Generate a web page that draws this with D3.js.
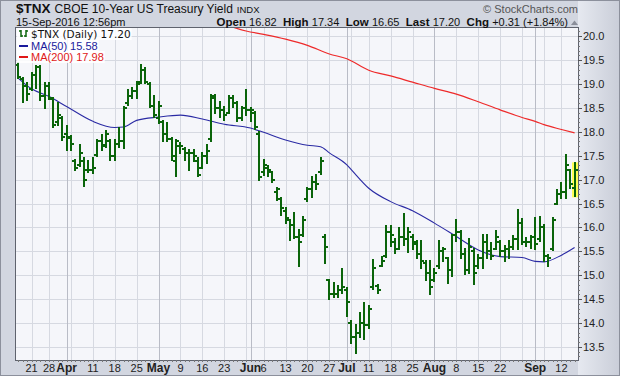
<!DOCTYPE html>
<html>
<head>
<meta charset="UTF-8">
<script src="https://d3js.org/d3.v7.min.js"></script>
<style>
  html, body { margin: 0; padding: 0; background: #fff; }
  svg { display: block; font-family: "Liberation Sans", Arial, sans-serif; }
</style>
</head>
<body>
<svg width="620" height="376"></svg>
<script>
// trading days Mar 16 - Sep 15 2016 (weekdays minus market holidays)
const holidays = ["2016-03-25", "2016-05-30", "2016-07-04", "2016-09-05"];
const fmt = d3.timeFormat("%Y-%m-%d");
const days = d3.timeDay.range(new Date(2016, 2, 16), new Date(2016, 8, 16))
  .filter(d => d.getDay() > 0 && d.getDay() < 6)
  .map(fmt)
  .filter(d => !holidays.includes(d));

// daily bars ($TNX, yield x10)
const opens = [19.40,19.10,18.95,18.90,19.20,19.35,18.75,18.95,18.68,18.20,18.30,
  17.95,17.88,17.40,17.30,17.40,17.20,17.20,17.52,17.80,17.72,17.80,17.50,17.75,17.80,18.60,18.75,18.85,19.05,19.30,19.00,18.55,
  18.30,18.20,17.95,17.85,17.40,17.70,17.65,17.55,17.55,17.40,17.25,17.50,17.85,18.70,18.50,18.45,18.40,18.70,18.60,18.30,18.50,
  18.45,18.40,17.95,17.15,17.25,17.15,16.75,16.60,16.35,16.15,16.05,15.80,15.85,16.60,16.80,16.95,17.15,15.80,14.90,14.60,14.60,14.70,
  14.70,14.00,13.70,13.80,14.00,13.95,14.75,14.78,15.20,15.40,15.90,15.70,15.55,15.80,15.75,15.80,15.65,15.45,15.25,15.05,
  14.90,15.20,15.50,15.35,15.10,15.85,15.90,15.45,15.10,15.50,15.20,15.35,15.70,15.50,15.55,15.70,15.50,15.55,15.60,15.75,16.10,15.70,15.70,
  15.80,15.75,16.00,15.40,15.55,16.50,16.70,16.75,17.20,16.82];
const highs = [19.44,19.12,19.02,19.23,19.37,19.37,19.02,19.03,18.70,18.60,18.32,
  18.12,17.92,17.42,17.73,17.45,17.38,17.45,17.83,17.94,18.01,17.83,17.83,18.08,18.53,18.88,18.91,19.05,19.40,19.33,19.02,18.74,
  18.63,18.22,18.18,17.87,17.83,17.76,17.66,17.62,17.63,17.45,17.55,17.73,18.77,18.77,18.63,18.53,18.74,18.74,18.63,18.53,18.88,
  18.49,18.42,18.00,17.42,17.28,17.17,16.82,16.61,16.40,16.16,16.30,15.95,16.22,16.83,17.05,17.10,17.46,15.85,14.91,14.84,14.78,15.13,
  14.74,14.04,13.95,14.20,14.42,14.35,15.32,14.80,15.38,16.02,16.02,15.75,15.99,16.28,15.99,15.85,15.71,15.71,15.30,15.30,
  15.12,15.71,15.58,15.37,15.85,16.15,15.92,15.54,15.75,15.54,15.43,15.85,15.85,15.68,15.92,15.71,15.61,15.71,15.82,16.36,16.17,15.78,15.82,
  16.20,16.22,16.06,15.43,16.19,16.79,16.93,17.52,17.21,17.34];
const lows = [19.12,18.63,18.67,18.88,18.91,18.67,18.49,18.68,18.11,18.15,17.83,
  17.62,17.62,17.21,17.28,16.86,17.17,17.14,17.49,17.62,17.69,17.42,17.42,17.69,17.66,18.56,18.70,18.70,19.02,19.02,18.53,18.32,
  18.18,17.80,17.80,17.42,17.07,17.55,17.42,17.21,17.38,17.07,17.24,17.35,17.80,18.39,18.32,18.25,18.39,18.53,18.22,18.25,18.35,
  18.22,18.05,17.00,17.10,17.07,16.96,16.58,16.27,16.09,15.74,15.78,15.19,15.82,16.55,16.63,16.80,17.12,15.26,14.50,14.55,14.55,14.62,
  14.14,13.59,13.38,13.70,13.66,13.90,14.72,14.62,15.19,15.38,15.62,15.47,15.55,15.64,15.48,15.54,15.37,15.16,14.91,14.60,
  14.88,15.16,15.30,14.84,14.98,15.71,15.37,15.02,15.05,14.81,15.16,15.16,15.37,15.33,15.54,15.40,15.30,15.37,15.54,15.54,15.65,15.61,15.57,
  15.54,15.71,15.30,15.19,15.52,16.48,16.62,16.62,16.83,16.65];
const closes = [19.15,18.95,18.80,19.20,19.35,18.75,18.95,18.70,18.15,18.35,17.90,
  17.90,17.75,17.25,17.55,17.00,17.20,17.25,17.80,17.70,17.95,17.50,17.75,17.80,18.50,18.75,18.85,19.00,19.30,19.05,18.55,18.35,
  18.55,17.95,17.85,17.50,17.80,17.70,17.55,17.55,17.50,17.10,17.50,17.60,18.75,18.50,18.45,18.35,18.70,18.60,18.30,18.50,18.45,
  18.45,18.10,17.05,17.30,17.20,17.00,16.80,16.40,16.20,16.05,15.80,15.70,16.15,16.80,16.95,16.90,17.40,15.60,14.60,14.60,14.70,14.75,
  14.45,13.70,13.80,14.00,13.95,14.30,15.15,14.70,15.30,15.90,15.85,15.55,15.80,15.75,15.90,15.70,15.45,15.30,15.05,14.75,
  15.05,15.50,15.55,15.10,15.85,15.90,15.45,15.10,15.60,15.05,15.35,15.70,15.50,15.40,15.80,15.50,15.55,15.60,15.75,16.10,15.70,15.70,15.80,
  15.65,16.00,15.40,15.35,16.15,16.70,16.75,17.30,16.90,17.20];

// moving averages
const ma50Dates = ["2016-03-16","2016-03-21","2016-03-28","2016-04-01","2016-04-11","2016-04-18","2016-04-20","2016-04-25",
  "2016-05-02","2016-05-09","2016-05-16","2016-05-23","2016-06-01","2016-06-06","2016-06-13","2016-06-20","2016-06-23",
  "2016-06-27","2016-07-01","2016-07-05","2016-07-11","2016-07-18","2016-07-25","2016-08-01","2016-08-08","2016-08-15",
  "2016-08-22","2016-08-29","2016-09-01","2016-09-06","2016-09-12","2016-09-15"];
const ma50Vals = [19.12,18.90,18.74,18.53,18.22,18.09,18.10,18.24,
  18.31,18.35,18.27,18.16,18.08,17.99,17.83,17.72,17.69,
  17.56,17.31,17.21,16.82,16.54,16.35,16.09,15.81,15.53,
  15.39,15.37,15.29,15.28,15.42,15.58];
const ma200Dates = ["2016-05-24","2016-05-31","2016-06-06","2016-06-13","2016-06-20","2016-06-27","2016-07-01","2016-07-11",
  "2016-07-18","2016-07-25","2016-08-01","2016-08-08","2016-08-15","2016-08-22","2016-08-29","2016-09-01","2016-09-06",
  "2016-09-12","2016-09-15"];
const ma200Vals = [20.22,20.11,20.04,19.94,19.81,19.63,19.53,19.29,
  19.17,19.04,18.91,18.79,18.63,18.46,18.30,18.22,18.15,
  18.05,17.98];

// axis ticks
const yTicks = [13.5,14.0,14.5,15.0,15.5,16.0,16.5,17.0,17.5,18.0,18.5,19.0,19.5,20.0];
const xLabelDates = ["2016-03-21","2016-03-28","2016-04-01","2016-04-11","2016-04-18","2016-04-25","2016-05-02","2016-05-09",
  "2016-05-16","2016-05-23","2016-06-01","2016-06-06","2016-06-13","2016-06-20","2016-06-27","2016-07-01","2016-07-11",
  "2016-07-18","2016-07-25","2016-08-01","2016-08-08","2016-08-15","2016-08-22","2016-09-01","2016-09-12"];
const xLabels = ["21","28","Apr","11","18","25","May","9","16","23","Jun","6","13","20","27","Jul","11","18","25",
  "Aug","8","15","22","Sep","12"];
const monthDates = ["2016-04-01","2016-05-02","2016-06-01","2016-07-01","2016-08-01","2016-09-01"];
const weekDates = ["2016-03-21","2016-03-28","2016-04-04","2016-04-11","2016-04-18","2016-04-25","2016-05-09","2016-05-16",
  "2016-05-23","2016-05-31","2016-06-06","2016-06-13","2016-06-20","2016-06-27","2016-07-05","2016-07-11","2016-07-18",
  "2016-07-25","2016-08-08","2016-08-15","2016-08-22","2016-08-29","2016-09-06","2016-09-12"];

const svg = d3.select("svg");
const W = 620, H = 376;
const pl = 16, pr = 578, pt = 28, pb = 360;

const x = d3.scalePoint().domain(days).range([18.4, 574.6]);
const y = d3.scaleLinear().domain([13.226, 20.173]).range([pb, pt]);

// background
const defs = svg.append("defs");
const grad = defs.append("linearGradient").attr("id", "side").attr("x1", 0).attr("x2", 1);
grad.append("stop").attr("offset", 0).attr("stop-color", "#e6e9f0");
grad.append("stop").attr("offset", 1).attr("stop-color", "#c9cdd8");
defs.append("clipPath").attr("id", "plotclip")
  .append("rect").attr("x", pl).attr("y", pt).attr("width", pr - pl).attr("height", pb - pt);

svg.append("rect").attr("width", W).attr("height", H).attr("fill", "#d2d6e0");
svg.append("rect").attr("x", pr).attr("y", 0).attr("width", W - pr).attr("height", H).attr("fill", "url(#side)");
svg.append("rect").attr("x", 0.5).attr("y", 0.5).attr("width", W - 1).attr("height", H - 1)
  .attr("fill", "none").attr("stroke", "#8c909c");
svg.append("rect").attr("x", pl).attr("y", pt).attr("width", pr - pl).attr("height", pb - pt).attr("fill", "#f5f6fa");

// grid
const grid = svg.append("g").attr("shape-rendering", "crispEdges");
grid.selectAll(".hg").data(yTicks).join("line")
  .attr("x1", pl).attr("x2", pr)
  .attr("y1", d => Math.round(y(d)) + 0.5).attr("y2", d => Math.round(y(d)) + 0.5)
  .attr("stroke", "#d6d9e1");
grid.selectAll(".wg").data(weekDates).join("line")
  .attr("x1", d => Math.round(x(d)) + 0.5).attr("x2", d => Math.round(x(d)) + 0.5)
  .attr("y1", pt).attr("y2", pb)
  .attr("stroke", "#d6d9e1");
grid.selectAll(".mg").data(monthDates).join("line")
  .attr("x1", d => Math.round(x(d)) + 0.5).attr("x2", d => Math.round(x(d)) + 0.5)
  .attr("y1", pt).attr("y2", pb)
  .attr("stroke", "#b9bcc6");

const plot = svg.append("g").attr("clip-path", "url(#plotclip)");

// moving averages
const line = d3.line().x(d => x(d[0])).y(d => y(d[1])).curve(d3.curveMonotoneX);
plot.append("path").attr("d", line(d3.zip(ma200Dates, ma200Vals)))
  .attr("fill", "none").attr("stroke", "#ee2a2a").attr("stroke-width", 1.2);
plot.append("path").attr("d", line(d3.zip(ma50Dates, ma50Vals)))
  .attr("fill", "none").attr("stroke", "#2a2aa4").attr("stroke-width", 1.1);

// last bar highlight
const last = days.length - 1;
plot.append("rect")
  .attr("x", Math.round(x(days[last])) - 3).attr("y", y(highs[last]) - 1)
  .attr("width", 7).attr("height", y(lows[last]) - y(highs[last]) + 2)
  .attr("fill", "#ffff55");

// OHLC bars
const bars = plot.append("g").attr("stroke", "#0a640a").attr("stroke-width", 2).attr("shape-rendering", "crispEdges");
days.forEach((d, i) => {
  const cx = Math.round(x(d));
  bars.append("line").attr("x1", cx).attr("x2", cx).attr("y1", y(highs[i]) - 1).attr("y2", y(lows[i]) + 1);
  bars.append("line").attr("x1", cx - 3).attr("x2", cx).attr("y1", Math.round(y(opens[i]))).attr("y2", Math.round(y(opens[i])));
  bars.append("line").attr("x1", cx).attr("x2", cx + 3).attr("y1", Math.round(y(closes[i]))).attr("y2", Math.round(y(closes[i])));
});

// legend
const leg = svg.append("g").attr("font-size", 11);
const legRows = [
  {t: "$TNX (Daily) 17.20", c: "#111", yy: 38, f: "DejaVu Sans", fs: 10.5},
  {t: "MA(50) 15.58", c: "#1a1a9c", yy: 50, lc: "#1a1a9c"},
  {t: "MA(200) 17.98", c: "#e01818", yy: 61, lc: "#e01818"}
];
legRows.forEach(r => {
  const t = leg.append("text").attr("x", 31).attr("y", r.yy).attr("fill", r.c).text(r.t);
  if (r.f) t.attr("font-family", r.f).attr("font-size", r.fs);
  const bb = t.node().getBBox();
  leg.insert("rect", "text").attr("x", 17).attr("y", bb.y).attr("width", bb.x + bb.width - 16).attr("height", bb.height)
    .attr("fill", "#ffffff").attr("opacity", 0.85);
  if (r.lc) {
    leg.append("line").attr("x1", 19).attr("x2", 28).attr("y1", r.yy - 4).attr("y2", r.yy - 4)
      .attr("stroke", r.lc).attr("stroke-width", 2);
  }
});
const ic = leg.append("g").attr("stroke", "#0b650b").attr("stroke-width", 1.5);
ic.append("line").attr("x1", 21).attr("x2", 21).attr("y1", 30).attr("y2", 37);
ic.append("line").attr("x1", 19).attr("x2", 21).attr("y1", 31).attr("y2", 31);
ic.append("line").attr("x1", 21).attr("x2", 23).attr("y1", 36).attr("y2", 36);
ic.append("line").attr("x1", 26).attr("x2", 26).attr("y1", 30).attr("y2", 37);
ic.append("line").attr("x1", 24).attr("x2", 26).attr("y1", 36).attr("y2", 36);
ic.append("line").attr("x1", 26).attr("x2", 28).attr("y1", 31).attr("y2", 31);

// frame
svg.append("rect").attr("x", pl - 0.5).attr("y", pt - 0.5).attr("width", pr - pl + 1).attr("height", pb - pt + 1)
  .attr("fill", "none").attr("stroke", "#5f636e");

// right axis
const ax = svg.append("g").attr("shape-rendering", "crispEdges");
ax.selectAll(".mt").data(d3.range(133, 202).map(v => v / 10)).join("line")
  .attr("x1", pr).attr("x2", pr + 2)
  .attr("y1", d => Math.round(y(d)) + 0.5).attr("y2", d => Math.round(y(d)) + 0.5)
  .attr("stroke", "#777");
ax.selectAll(".Mt").data(yTicks).join("line")
  .attr("x1", pr).attr("x2", pr + 4)
  .attr("y1", d => Math.round(y(d)) + 0.5).attr("y2", d => Math.round(y(d)) + 0.5)
  .attr("stroke", "#555");
svg.append("g").attr("font-size", 11).attr("fill", "#222")
  .selectAll("text").data(yTicks).join("text")
  .attr("x", pr + 5).attr("y", d => y(d) + 4)
  .text(d => d.toFixed(1));

// bottom axis
ax.selectAll(".dt").data(days).join("line")
  .attr("x1", d => Math.round(x(d)) + 0.5).attr("x2", d => Math.round(x(d)) + 0.5)
  .attr("y1", pb).attr("y2", pb + 2)
  .attr("stroke", "#777");
svg.append("g").attr("font-size", 11).attr("fill", "#222").attr("text-anchor", "middle")
  .selectAll("text").data(d3.zip(xLabelDates, xLabels)).join("text")
  .attr("x", d => x(d[0])).attr("y", 372)
  .attr("font-weight", d => isNaN(+d[1]) ? "bold" : "normal")
  .attr("font-size", d => isNaN(+d[1]) ? 12 : 11)
  .text(d => d[1]);

// header
const hd = svg.append("g").attr("fill", "#111");
const t1 = hd.append("text").attr("x", 16).attr("y", 13);
t1.append("tspan").attr("font-weight", "bold").attr("font-size", 13.5).text("$TNX");
t1.append("tspan").attr("font-size", 12).attr("dx", 4).text("CBOE 10-Year US Treasury Yield");
t1.append("tspan").attr("font-size", 9.5).attr("dx", 4).text("INDX");
hd.append("text").attr("x", 16).attr("y", 26).attr("font-size", 11).text("15-Sep-2016 12:56pm");
hd.append("text").attr("x", 578).attr("y", 13).attr("font-size", 11).attr("fill", "#555")
  .attr("text-anchor", "end").text("\u00A9 StockCharts.com");
const quote = [["Open", "16.82"], ["High", "17.34"], ["Low", "16.65"], ["Last", "17.20"], ["Chg", "+0.31 (+1.84%)"]];
const qt = hd.append("text").attr("x", 568).attr("y", 26).attr("font-size", 11).attr("text-anchor", "end");
quote.forEach((q, i) => {
  qt.append("tspan").attr("font-weight", "bold").attr("font-size", 11.5).text((i ? "  " : "") + q[0] + " ");
  qt.append("tspan").text(q[1]);
});
qt.attr("xml:space", "preserve").style("white-space", "pre");
svg.append("path").attr("d", "M571,25 L574.5,20.5 L578,25 Z").attr("fill", "#8a8e9a");
</script>
</body>
</html>
